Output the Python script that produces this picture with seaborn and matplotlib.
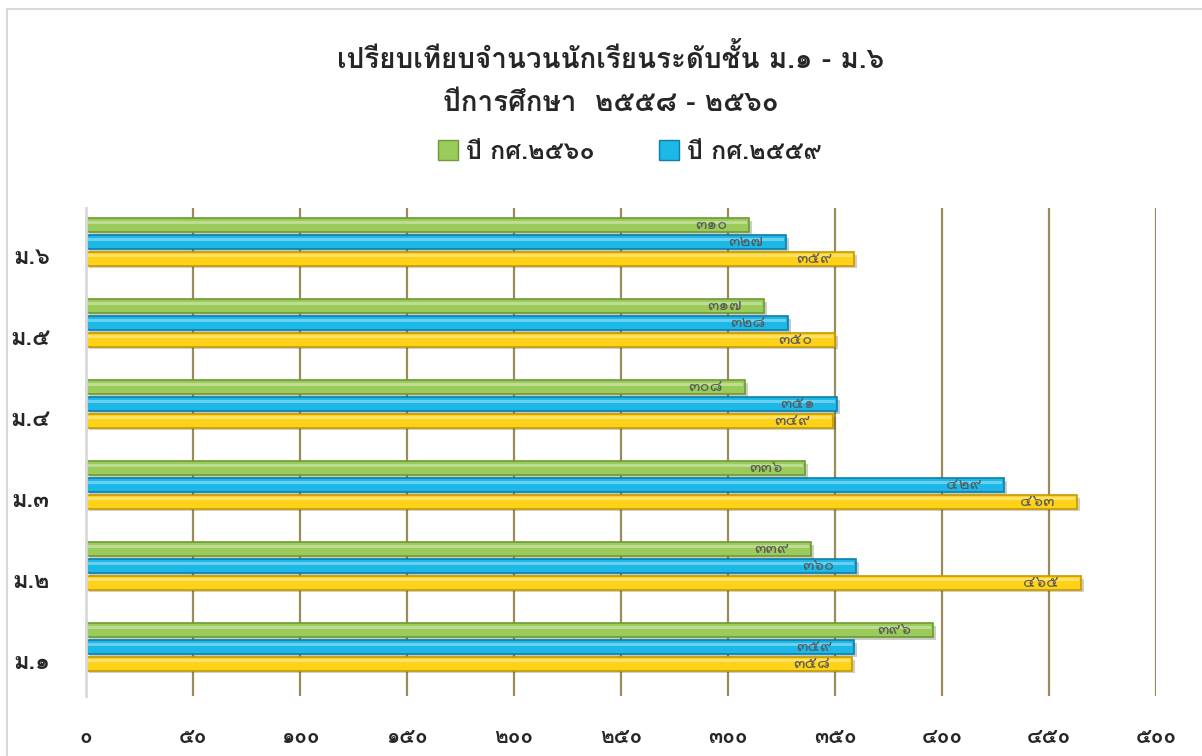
import numpy as np
import pandas as pd
import seaborn as sns
import matplotlib.pyplot as plt
import matplotlib.transforms as mtransforms
from matplotlib.patches import Patch, Rectangle
import matplotlib.patheffects as pe

grades = ['ม.๖', 'ม.๕', 'ม.๔', 'ม.๓', 'ม.๒', 'ม.๑']
y2560 = [310, 317, 308, 336, 339, 396]
y2559 = [327, 328, 351, 429, 360, 359]
y2558 = [359, 350, 349, 463, 465, 358]
years = ['ปี กศ.๒๕๖๐', 'ปี กศ.๒๕๕๙', 'ปี กศ.๒๕๕๘']
colors = ['#9BCB5A', '#1CB8E8', '#FFD21A']
edges = ['#6F9A34', '#0F7FA8', '#C79A00']
xticks = list(range(0, 501, 50))

thai = str.maketrans('0123456789', '๐๑๒๓๔๕๖๗๘๙')

df = pd.DataFrame({
    'grade': grades * 3,
    'count': y2560 + y2559 + y2558,
    'year': [years[0]] * 6 + [years[1]] * 6 + [years[2]] * 6,
})

sns.set_style('white')
plt.rcParams['font.family'] = ['Loma', 'DejaVu Sans']

fig = plt.figure(figsize=(12.02, 7.56), dpi=100)
ax = fig.add_axes([86/1202, 1-696/756, (1156-86)/1202, (696-208)/756])

sns.barplot(data=df, x='count', y='grade', hue='year', hue_order=years,
            order=grades, palette=colors, orient='h', width=0.62, gap=0.18,
            legend=False, ax=ax, saturation=1)

for cont, ec in zip(ax.containers, edges):
    for p in cont:
        p.set_edgecolor(ec)
        p.set_linewidth(1.2)
        p.set_path_effects([pe.SimplePatchShadow(offset=(2, -2), alpha=0.25), pe.Normal()])
        # light bevel strip on top part of each bar
        ax.add_patch(Rectangle((p.get_x() + 1, p.get_y() + p.get_height() * 0.18),
                               p.get_width() - 2, p.get_height() * 0.22,
                               color='white', alpha=0.35, lw=0, zorder=p.get_zorder() + 0.1))
    txts = ax.bar_label(cont, labels=[str(int(v)).translate(thai) for v in cont.datavalues],
                        padding=-16, fontsize=12, color='#595959', zorder=5)
    for t in txts:
        t.set_ha('right')

ax.set_xlim(0, 500)
ax.set_ylim(5.605, -0.42)
ax.set_xticks(xticks)
ax.set_xticklabels([str(v).translate(thai) for v in xticks], fontsize=15, fontweight='bold')
ax.set_yticklabels(grades, fontsize=17, fontweight='bold')
ax.tick_params(axis='x', length=0, pad=23)
ax.tick_params(axis='y', length=0, pad=26)
ax.set_xlabel('')
ax.set_ylabel('')

# Excel puts the category labels a bit below the group centre
off = mtransforms.ScaledTranslation(0, -13/100, fig.dpi_scale_trans)
for lab in ax.get_yticklabels():
    lab.set_transform(lab.get_transform() + off)

ax.set_axisbelow(True)
ax.xaxis.grid(True, color='#9A8C58', lw=1.6)
ax.yaxis.grid(False)
for s in ['top', 'right', 'bottom']:
    ax.spines[s].set_visible(False)
ax.spines['left'].set_color('#D9D9D9')
ax.spines['left'].set_linewidth(2)
ax.spines['left'].set_zorder(3)
ax.get_xgridlines()[0].set_visible(False)

fig.text(0.508, 1-58/756, 'เปรียบเทียบจำนวนนักเรียนระดับชั้น ม.๑ - ม.๖',
         ha='center', va='center', fontsize=20, fontweight='bold')
fig.text(0.508, 1-103/756, 'ปีการศึกษา  ๒๕๕๘ - ๒๕๖๐',
         ha='center', va='center', fontsize=20, fontweight='bold')

handles = [Patch(facecolor=colors[i], edgecolor=edges[i], label=years[i]) for i in range(2)]
fig.legend(handles=handles, loc='center', bbox_to_anchor=(0.524, 1-152/756), ncol=2,
           frameon=False, prop={'size': 18, 'weight': 'bold'}, handlelength=0.8,
           handleheight=0.8, handletextpad=0.3, columnspacing=2.6)

fig.patches.append(Rectangle((7/1202, -0.1), 1.2, 0.1 + (756-9)/756, transform=fig.transFigure,
                             fill=False, ec='#D9D9D9', lw=1.5))

fig.savefig('out.png', dpi=100)
